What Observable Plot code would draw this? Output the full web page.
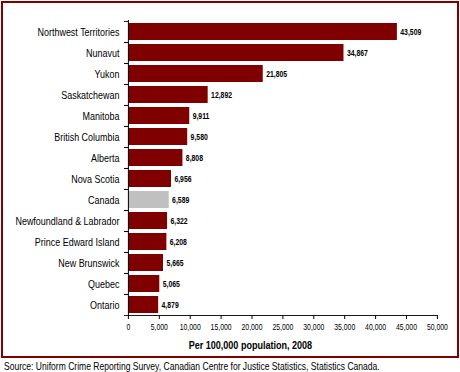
<!DOCTYPE html>
<html><head><meta charset="utf-8">
<script src="https://cdn.jsdelivr.net/npm/d3@7"></script>
<script src="https://cdn.jsdelivr.net/npm/@observablehq/plot@0.6"></script>
<style>
body{margin:0;background:#fff;}
#wrap{position:relative;width:460px;height:372px;overflow:hidden;font-family:'Liberation Sans',Arial,sans-serif;}
#frame{position:absolute;left:1px;top:1px;width:458px;height:357px;box-sizing:border-box;border:2px solid #800000;}
#chart{position:absolute;left:0;top:0;width:575px;height:356px;transform:scaleX(0.8);transform-origin:0 0;}
#chart svg{max-width:none !important;display:block;}
#cap{position:absolute;left:4px;top:360px;font-size:10.7px;line-height:12px;color:#000;white-space:nowrap;transform:scaleX(0.8);transform-origin:0 0;}
</style></head>
<body><div id="wrap"><div id="frame"></div><div id="chart"></div><div id="cap">Source: Uniform Crime Reporting Survey, Canadian Centre for Justice Statistics, Statistics Canada.</div></div>
<script>
const regions = ["Northwest Territories","Nunavut","Yukon","Saskatchewan","Manitoba","British Columbia","Alberta","Nova Scotia","Canada","Newfoundland & Labrador","Prince Edward Island","New Brunswick","Quebec","Ontario"];
const rates = [43509,34867,21805,12892,9911,9580,8808,6956,6589,6322,6208,5665,5065,4879];
const xTicks = [0,5000,10000,15000,20000,25000,30000,35000,40000,45000,50000];
const axisTitle = "Per 100,000 population, 2008";
const data = regions.map((r,i)=>({region:r, value:rates[i]}));
const fmt = d3.format(",");
const S = 0.8; // horizontal condensing of the whole chart
const step = (315-20)/14;
const chart = Plot.plot({
  width:460/S, height:356,
  marginLeft:128/S, marginRight:23/S, marginTop:20, marginBottom:41,
  style:{fontFamily:"'Liberation Sans',Arial,sans-serif", background:"transparent", color:"#000", maxWidth:"none"},
  x:{domain:[0,50000]},
  y:{domain:regions, paddingInner:0.2, paddingOuter:0.1},
  marks:[
    Plot.barX(data,{y:"region", x:"value", fill:d=>d.region==="Canada"?"#c0c0c0":"#800000"}),
    Plot.text(data,{y:"region", x:"value", text:d=>fmt(d.value), textAnchor:"start", dx:3/S, fontWeight:"bold", fontSize:8.6, fill:"#000"}),
    Plot.axisY({tickSize:0, tickPadding:9/S, fontSize:11.2, label:null}),
    Plot.axisY({tickSize:4/S, text:null, dy:-step/2, label:null}),
    Plot.axisY({tickSize:4/S, text:null, dy:step/2, label:null}),
    Plot.axisX({ticks:xTicks, tickFormat:fmt, tickSize:4, tickPadding:4, fontSize:8.6, strokeWidth:1.25, label:null}),
    Plot.ruleX([0],{stroke:"#000", strokeWidth:1.25}),
    Plot.frame({anchor:"bottom", stroke:"#000"}),
    Plot.text([axisTitle],{frameAnchor:"bottom", dy:33, dx:(250-282.5)/S, fontWeight:"bold", fontSize:11.3, fill:"#000"})
  ]
});
document.getElementById("chart").appendChild(chart);
</script></body></html>
